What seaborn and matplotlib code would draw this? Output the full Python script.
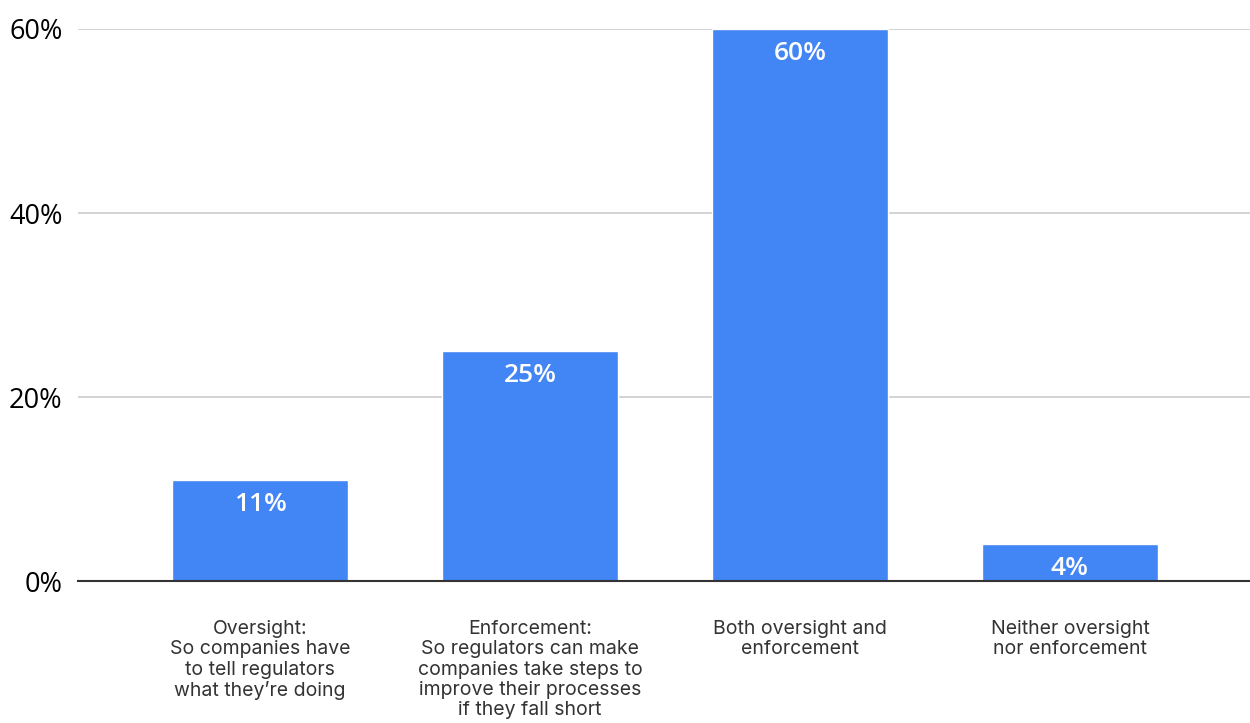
import matplotlib
matplotlib.use("Agg")
import matplotlib.pyplot as plt
import seaborn as sns
import pandas as pd

categories = [
    "Oversight:\nSo companies have\nto tell regulators\nwhat they\u2019re doing",
    "Enforcement:\nSo regulators can make\ncompanies take steps to\nimprove their processes\nif they fall short",
    "Both oversight and\nenforcement",
    "Neither oversight\nnor enforcement",
]
values = [11, 25, 60, 4]
value_labels = ["11%", "25%", "60%", "4%"]
yticks = [0, 20, 40, 60]
ytick_labels = ["0%", "20%", "40%", "60%"]

sns.set_theme(style="white")
plt.rcParams['font.family'] = ['Open Sans', 'DejaVu Sans']

df = pd.DataFrame({"cat": categories, "val": values})

fig = plt.figure(figsize=(12.5, 7.23), dpi=100)
ax = fig.add_axes([0.0624, 0.196, 0.9376, 0.764])

sns.barplot(data=df, x="cat", y="val", color="#4285F4", saturation=1,
            width=0.65, ax=ax, zorder=3)

ax.set_ylim(0, 60)
ax.set_xlim(-0.674, 3.667)
ax.set_yticks(yticks)
ax.set_yticklabels(ytick_labels, fontsize=19.5, color="#000000")
ax.yaxis.grid(True, color="#cccccc", linewidth=1.2, zorder=0)
ax.set_axisbelow(True)
ax.tick_params(axis="y", length=0, pad=11)
ax.tick_params(axis="x", length=0, pad=28)
for lab in ax.get_xticklabels():
    lab.set_fontfamily(['Inter', 'DejaVu Sans'])
    lab.set_fontsize(14)
    lab.set_color("#333333")
    lab.set_linespacing(1.16)
    lab.set_verticalalignment("top")
ax.set_xlabel("")
ax.set_ylabel("")
for s in ["top", "right", "left"]:
    ax.spines[s].set_visible(False)
ax.spines["bottom"].set_color("#333333")
ax.spines["bottom"].set_linewidth(1.5)
ax.spines["bottom"].set_zorder(5)

for p, lab in zip(ax.patches, value_labels):
    ax.annotate(lab, (p.get_x() + p.get_width() / 2, p.get_height()),
                xytext=(0, -17.5), textcoords="offset points",
                ha="center", va="center", color="white", fontsize=19,
                fontweight="semibold", zorder=6)

fig.savefig("out.png", dpi=100)
